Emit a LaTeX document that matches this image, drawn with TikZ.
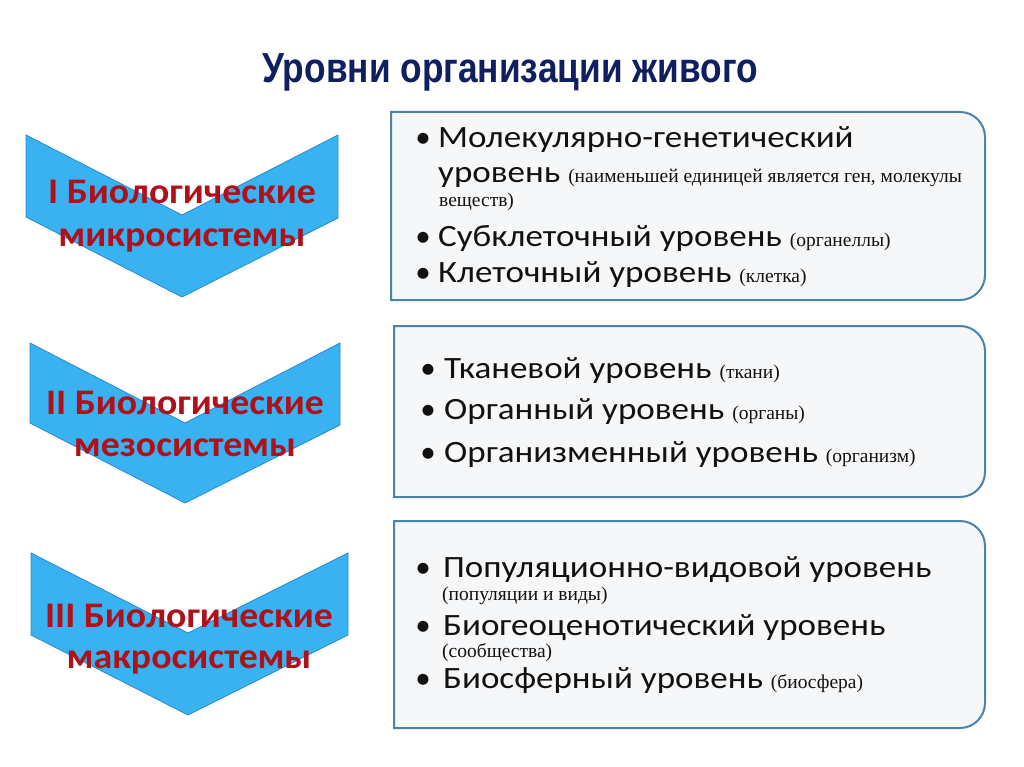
\documentclass[tikz,border=0pt]{standalone}
\usepackage{fontspec}
\setmainfont{Carlito}
\newfontfamily\titlefont[FakeStretch=0.84]{Liberation Sans}
\newfontfamily\notefont{Liberation Serif}
\newfontfamily\chevfont[FakeStretch=1.05]{Carlito}
\newfontfamily\listfont[FakeStretch=1.13]{Carlito}
\definecolor{titleblue}{HTML}{0F1F5F}
\definecolor{chevfill}{HTML}{38B2F0}
\definecolor{chevline}{HTML}{2A8AD0}
\definecolor{chevtext}{HTML}{B0101A}
\definecolor{boxline}{HTML}{4A84AD}
\definecolor{boxfill}{HTML}{F6F7F9}
\definecolor{listtext}{HTML}{111111}
\tikzset{
  chev/.style={fill=chevfill, draw=chevline, line width=0.8pt, line join=miter},
  ctext/.style={anchor=base, inner sep=0pt, text=chevtext, font=\chevfont\bfseries\fontsize{36}{40}\selectfont},
  lbox/.style={fill=boxfill, draw=boxline, line width=2pt},
  bul/.style={anchor=base, inner sep=0pt, text=listtext, font=\fontsize{31}{36}\selectfont},
  item/.style={anchor=base west, inner sep=0pt, text=listtext, font=\listfont\fontsize{31}{36}\selectfont},
  note/.style={anchor=base west, inner sep=0pt, text=listtext, font=\notefont\fontsize{19.5}{22}\selectfont},
}
\newcommand{\nt}[1]{{\notefont\fontsize{19.5}{22}\selectfont #1}}
\begin{document}
\begin{tikzpicture}[x=1pt,y=-1pt]
\useasboundingbox[fill=white] (0,0) rectangle (1024,767);
% title
\node[anchor=base, inner sep=0pt, text=titleblue, font=\titlefont\bfseries\fontsize{42}{46}\selectfont] (title) at (510,83) {Уровни организации живого};
% chevrons
\draw[chev] (26,135) -- (182,215) -- (338,135) -- (338,218) -- (182,297) -- (26,217) -- cycle;
\draw[chev] (30,343) -- (185,423) -- (340,343) -- (340,425) -- (185,503) -- (30,423) -- cycle;
\draw[chev] (31,553) -- (188,633) -- (348,553) -- (348,635) -- (188,715) -- (31,635) -- cycle;
\node[ctext] (c1a) at (182,204) {I Биологические};
\node[ctext] (c1b) at (182,247) {микросистемы};
\node[ctext] (c2a) at (185,414) {II Биологические};
\node[ctext] (c2b) at (185,456) {мезосистемы};
\node[ctext] (c3a) at (189,627) {III Биологические};
\node[ctext] (c3b) at (189,668) {макросистемы};
% boxes
\draw[lbox] (391,112) -- (960,112) .. controls (973.8,112) and (985,123.2) .. (985,137) -- (985,275) .. controls (985,288.8) and (973.8,300) .. (960,300) -- (391,300) -- cycle;
\draw[lbox] (394,326) -- (960,326) .. controls (973.8,326) and (985,337.2) .. (985,351) -- (985,472) .. controls (985,485.8) and (973.8,497) .. (960,497) -- (394,497) -- cycle;
\draw[lbox] (394,521) -- (960,521) .. controls (973.8,521) and (985,532.2) .. (985,546) -- (985,703) .. controls (985,716.8) and (973.8,728) .. (960,728) -- (394,728) -- cycle;
% box 1
\node[bul] (b11) at (423,148) {•};
\node[item] (t11) at (438,148) {Молекулярно-генетический};
\node[item] (t12) at (438,183) {уровень \nt{(наименьшей единицей является ген, молекулы}};
\node[note] (t13) at (439,207) {веществ)};
\node[bul] (b12) at (423,246) {•};
\node[item] (t14) at (438,246) {Субклеточный уровень \nt{(органеллы)}};
\node[bul] (b13) at (423,282) {•};
\node[item] (t15) at (438,282) {Клеточный уровень \nt{(клетка)}};
% box 2
\node[bul] (b21) at (428,378) {•};
\node[item] (t21) at (444,378) {Тканевой уровень \nt{(ткани)}};
\node[bul] (b22) at (428,419) {•};
\node[item] (t22) at (444,419) {Органный уровень \nt{(органы)}};
\node[bul] (b23) at (428,462) {•};
\node[item] (t23) at (444,462) {Организменный уровень \nt{(организм)}};
% box 3
\node[bul] (b31) at (423,577) {•};
\node[item] (t31) at (443,577) {Популяционно-видовой уровень};
\node[note] (t32) at (442,600) {(популяции и виды)};
\node[bul] (b32) at (423,635) {•};
\node[item] (t33) at (443,635) {Биогеоценотический уровень};
\node[note] (t34) at (442,657) {(сообщества)};
\node[bul] (b33) at (423,688) {•};
\node[item] (t35) at (443,688) {Биосферный уровень \nt{(биосфера)}};
\end{tikzpicture}
\end{document}
